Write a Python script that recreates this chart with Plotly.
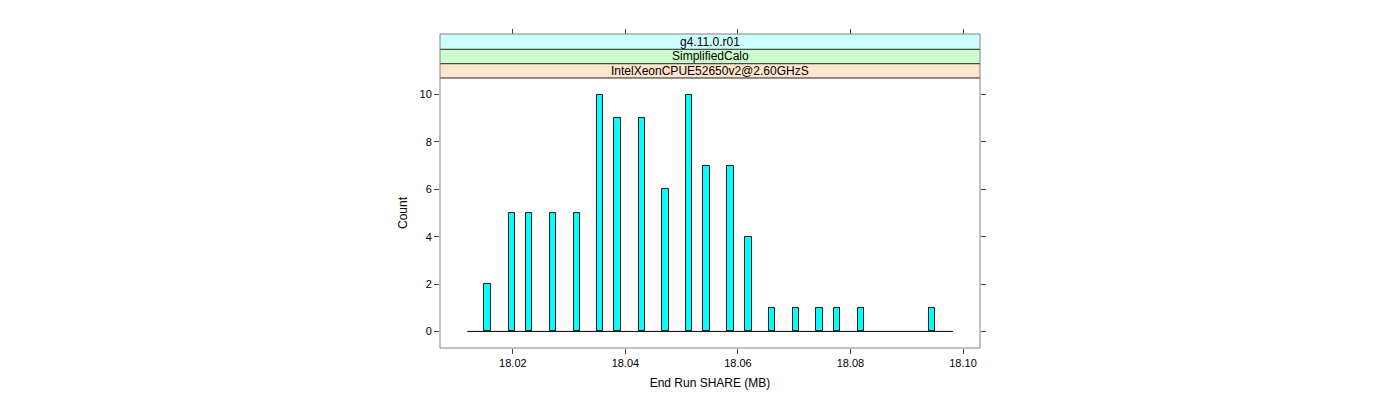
import plotly.graph_objects as go

# Data
bin_centers = [18.0155, 18.0198, 18.0229, 18.0271, 18.0314, 18.0355, 18.0386,
               18.0429, 18.0471, 18.0513, 18.0544, 18.0587, 18.0619, 18.0660,
               18.0703, 18.0745, 18.0776, 18.0819, 18.0945]
counts = [2, 5, 5, 5, 5, 10, 9, 9, 6, 10, 7, 7, 4, 1, 1, 1, 1, 1, 1]
bin_width = 0.00112
hist_range = [18.0119, 18.0982]   # extent of all (incl. empty) bins

x_ticks = [18.02, 18.04, 18.06, 18.08, 18.10]
x_tick_labels = ["18.02", "18.04", "18.06", "18.08", "18.10"]
y_ticks = [0, 2, 4, 6, 8, 10]

strip_labels = ["IntelXeonCPUE52650v2@2.60GHzS", "SimplifiedCalo", "g4.11.0.r01"]
strip_colors = ["#ffe5cc", "#ccffcc", "#ccffff"]

x_range = [18.00705, 18.10302]
y_range = [-0.7, 10.7]

FONT = "Liberation Sans, Arial, sans-serif"
panel_top = 0.8599
strip_edges = [panel_top, 0.9054, 0.9513, 1.0]

fig = go.Figure()
fig.add_trace(go.Scatter(
    x=hist_range, y=[0, 0], mode="lines",
    line=dict(color="black", width=1), hoverinfo="skip", showlegend=False))
fig.add_trace(go.Bar(
    x=bin_centers, y=counts, width=bin_width,
    marker=dict(color="#00ffff", line=dict(color="#1a1a1a", width=1)),
    showlegend=False))
# invisible trace for the top tick axis
fig.add_trace(go.Scatter(x=[x_range[0]], y=[0], xaxis="x2", yaxis="y",
                         mode="markers", marker=dict(opacity=0),
                         hoverinfo="skip", showlegend=False))

shapes = []
for i in range(3):
    shapes.append(dict(type="rect", xref="paper", yref="paper",
                       x0=0, x1=1, y0=strip_edges[i], y1=strip_edges[i + 1],
                       fillcolor=strip_colors[i], line=dict(width=0), layer="below"))
for e in strip_edges[:3]:
    shapes.append(dict(type="line", xref="paper", yref="paper",
                       x0=0, x1=1, y0=e, y1=e, line=dict(color="#222222", width=1)))
shapes.append(dict(type="rect", xref="paper", yref="paper", x0=0, x1=1, y0=0, y1=1,
                   line=dict(color="#808080", width=1)))

annotations = []
for i, lab in enumerate(strip_labels):
    annotations.append(dict(text=lab, xref="paper", yref="paper", x=0.5,
                            y=(strip_edges[i] + strip_edges[i + 1]) / 2,
                            showarrow=False, xanchor="center", yanchor="middle",
                            font=dict(family=FONT, size=12, color="black")))

fig.update_layout(
    width=1400, height=400,
    margin=dict(l=432, r=428, t=26, b=60),
    paper_bgcolor="white", plot_bgcolor="white",
    font=dict(family=FONT, size=11, color="black"),
    bargap=0,
    xaxis=dict(range=x_range, tickvals=x_ticks, ticktext=x_tick_labels,
               ticks="outside", ticklen=5, tickcolor="#444444",
               showgrid=False, zeroline=False, showline=False,
               title=dict(text="End Run SHARE (MB)", standoff=10,
                          font=dict(family=FONT, size=12)),
               tickfont=dict(family=FONT, size=11)),
    xaxis2=dict(range=x_range, overlaying="x", anchor="free", position=1,
                side="top", tickvals=x_ticks, ticks="outside", ticklen=5,
                tickcolor="#444444", showticklabels=False, showgrid=False,
                zeroline=False, showline=False),
    yaxis=dict(range=y_range, domain=[0, panel_top], tickvals=y_ticks,
               ticks="outside", ticklen=5, tickcolor="#444444", mirror="ticks",
               showgrid=False, zeroline=False, showline=False,
               title=dict(text="Count", standoff=9, font=dict(family=FONT, size=12)),
               tickfont=dict(family=FONT, size=11)),
    shapes=shapes, annotations=annotations,
)

fig.write_html("out.html")
